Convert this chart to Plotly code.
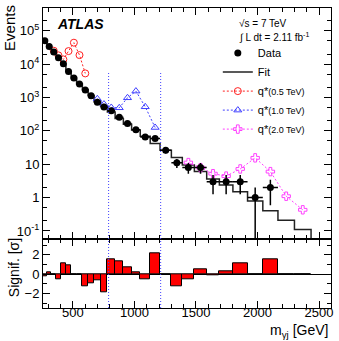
import plotly.graph_objects as go
import numpy as np

# ---- data ----
bin_edges = [255, 289, 326, 363, 402, 443, 486, 530, 577, 624, 672, 725, 780, 843, 910,
             977, 1047, 1128, 1208, 1300, 1389, 1487, 1587, 1690, 1800, 1919, 2043, 2166,
             2300, 2435]
data_counts = [50100, 33900, 22900, 15500, 10200, 6030, 3800, 2510, 1660, 1120, 724, 513,
               398, 257, 166, 107, 65, 59, 26, 11, 8, 8, 3, 3, 3, 1, 2]
fit_values = [50200, 33800, 22900, 15600, 10100, 5960, 3800, 2510, 1710, 1150, 740, 556,
              369, 236, 157, 105, 69, 42, 26, 16, 9.5, 6.0, 3.6, 2.4, 1.5, 0.79, 0.40,
              0.21, 0.11]
signif = [-0.2, 0.2, 0.0, -0.5, 1.1, 0.9, 0.0, -0.05, -1.3, -0.9, -0.6, -1.9, 1.5, 1.3,
          0.7, 0.2, -0.5, 2.2, 0.0, -1.3, -0.5, 0.55, -0.1, 0.3, 1.1, 0.0, 1.55, 0.0, 0.0]

q05_bins = [2, 3, 4, 5, 6, 7, 8]
q05_vals = [25100, 18200, 13800, 24500, 43700, 18600, 5250]
q10_bins = [10, 11, 12, 13, 14, 15, 16, 17]
q10_vals = [912, 631, 501, 490, 977, 1550, 525, 126]
q20_bins = [20, 21, 22, 23, 24, 25, 26, 27, 28]
q20_vals = [11.2, 7.9, 5.2, 4.4, 7.2, 15.5, 6.0, 1.1, 0.43]

window_edges = [790, 1213]
x_tickvals = [500, 1000, 1500, 2000, 2500]
y_tickvals = [0.1, 1, 10, 100, 1e3, 1e4, 1e5]
y_ticktext = ["10<sup>-1</sup>", "1", "10", "10<sup>2</sup>", "10<sup>3</sup>",
              "10<sup>4</sup>", "10<sup>5</sup>"]
sig_tickvals = [-2, 0, 2]

# ---- derived ----
edges = np.array(bin_edges, dtype=float)
centers = 0.5 * (edges[:-1] + edges[1:])
halfw = 0.5 * (edges[1:] - edges[:-1])
nd = len(data_counts)
dc = np.array(data_counts, dtype=float)
err_up = np.sqrt(dc)
err_dn = np.where(dc - np.sqrt(dc) <= 0, dc * 0.999, np.sqrt(dc))

FONT = "Liberation Sans, Arial, sans-serif"
XR = [257, 2597]
DOT = "2px,2px"

fig = go.Figure()

# Fit histogram (step)
fig.add_trace(go.Scatter(
    x=list(edges), y=list(fit_values) + [1e-6], mode="lines",
    line=dict(shape="hv", color="#222222", width=1.5),
    name="Fit", xaxis="x", yaxis="y", legendrank=2))

# signal curves
fig.add_trace(go.Scatter(
    x=centers[q05_bins], y=q05_vals, mode="lines+markers",
    line=dict(color="#ff2020", width=1, dash=DOT),
    marker=dict(symbol="circle-open", size=7, color="#ff2020", line=dict(width=1)),
    name="q*<span style='font-size:9px'>(0.5 TeV)</span>", legendrank=3))
fig.add_trace(go.Scatter(
    x=centers[q10_bins], y=q10_vals, mode="lines+markers",
    line=dict(color="#4040ff", width=1, dash=DOT),
    marker=dict(symbol="triangle-up-open", size=7, color="#4040ff", line=dict(width=1)),
    name="q*<span style='font-size:9px'>(1.0 TeV)</span>", legendrank=4))
fig.add_trace(go.Scatter(
    x=centers[q20_bins], y=q20_vals, mode="lines+markers",
    line=dict(color="#ff40ff", width=1, dash=DOT),
    marker=dict(symbol="cross-open", size=7, color="#ff40ff", line=dict(width=1)),
    name="q*<span style='font-size:9px'>(2.0 TeV)</span>", legendrank=5))

# Data
fig.add_trace(go.Scatter(
    x=centers[:nd], y=dc, mode="markers",
    marker=dict(symbol="circle", size=7, color="black"),
    error_y=dict(type="data", symmetric=False, array=err_up, arrayminus=err_dn,
                 color="black", thickness=1.5, width=0),
    error_x=dict(type="data", array=halfw[:nd], color="black", thickness=1.5, width=0),
    name="Data", legendrank=1))

# significance
fig.add_trace(go.Bar(
    x=centers, y=signif, width=2 * halfw, marker=dict(color="red",
    line=dict(color="black", width=1)), showlegend=False, xaxis="x2", yaxis="y2"))

# search window lines
for xe in window_edges:
    fig.add_shape(type="line", xref="x", yref="paper", x0=xe, x1=xe, y0=0, y1=0.79,
                  line=dict(color="#4040ff", width=1, dash="1px,2px"))

axis_common = dict(showline=True, linecolor="black", linewidth=1, ticks="inside",
                   mirror="allticks", showgrid=False, zeroline=False,
                   tickcolor="black", tickfont=dict(size=13, color="black", family=FONT))

fig.update_layout(
    width=339, height=341, margin=dict(l=43, r=6, t=8, b=33),
    paper_bgcolor="white", plot_bgcolor="white",
    font=dict(family=FONT, color="black"),
    xaxis=dict(domain=[0, 1], anchor="y", range=XR, showticklabels=False,
               tickvals=x_tickvals, ticklen=7,
               minor=dict(ticks="inside", dtick=100, ticklen=4, tickcolor="black"),
               **axis_common),
    yaxis=dict(domain=[0.229, 1], anchor="x", type="log", range=[-1.25, 5.68],
               tickvals=y_tickvals, ticktext=y_ticktext, ticklen=7,
               minor=dict(ticks="inside", ticklen=4, tickcolor="black"),
               **axis_common),
    xaxis2=dict(domain=[0, 1], anchor="y2", range=XR, tickvals=x_tickvals, ticklen=7,
                ticklabelstandoff=-8,
                minor=dict(ticks="inside", dtick=100, ticklen=4, tickcolor="black"),
                **axis_common),
    yaxis2=dict(domain=[0, 0.229], anchor="x2", range=[-3.5, 3.6], tickvals=sig_tickvals,
                ticklen=7, minor=dict(ticks="inside", dtick=1, ticklen=4, tickcolor="black"),
                **axis_common),
    bargap=0,
    showlegend=True,
    legend=dict(x=0.607, y=0.898, xanchor="left", yanchor="top",
                bgcolor="rgba(0,0,0,0)", font=dict(size=11, family=FONT),
                tracegroupgap=0, itemwidth=30),
)
fig.layout.yaxis2.zeroline = True
fig.layout.yaxis2.zerolinecolor = "black"
fig.layout.yaxis2.zerolinewidth = 1

annots = [
    dict(text="<b><i>ATLAS</i></b>", x=0.041, y=0.948, xanchor="left", yanchor="middle",
         font=dict(size=14)),
    dict(text="√s = 7 TeV", x=0.672, y=0.948, xanchor="left", yanchor="middle",
         font=dict(size=10)),
    dict(text="∫ L dt = 2.11 fb<sup>-1</sup>", x=0.672, y=0.903, xanchor="left",
         yanchor="middle", font=dict(size=10)),
    dict(text="Events", x=-0.117, y=1.018, xanchor="center", yanchor="top",
         textangle=-90, font=dict(size=15)),
    dict(text="Signif. [σ]", x=-0.103, y=0.134, xanchor="center", yanchor="middle",
         textangle=-90, font=dict(size=14)),
    dict(text="m<sub>γj</sub> [GeV]", x=0.995, y=-0.075, xanchor="right",
         yanchor="middle", font=dict(size=14)),
]
for a in annots:
    a.update(xref="paper", yref="paper", showarrow=False)
    a["font"]["family"] = FONT
    a["font"]["color"] = "black"
fig.update_layout(annotations=annots)

fig.write_html("out.html")
